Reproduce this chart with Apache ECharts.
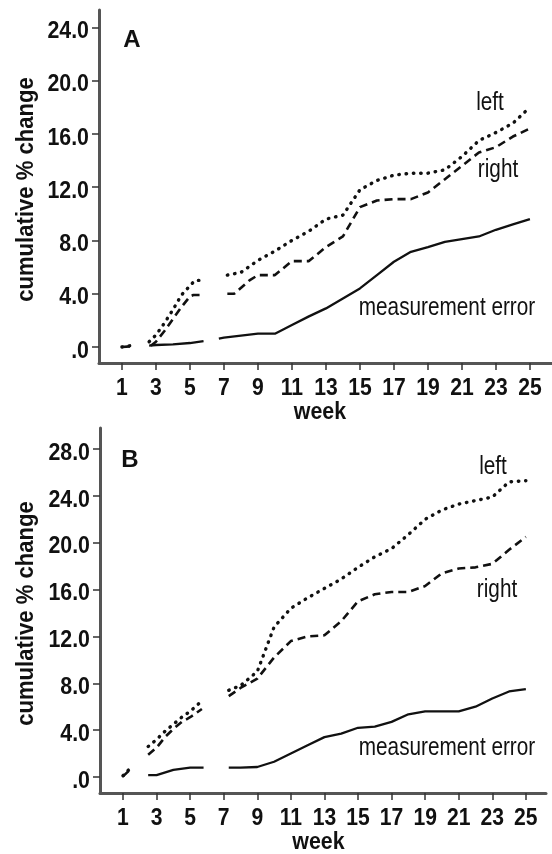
<!DOCTYPE html>
<html>
<head>
<meta charset="utf-8">
<script src="https://cdn.jsdelivr.net/npm/echarts@6/dist/echarts.min.js"></script>
<style>
html,body{margin:0;padding:0;background:#fff;}
#c{width:552px;height:854px;}
</style>
</head>
<body>
<div id="c"></div>
<script>
// ---- data: [week, cumulative % change]; '-' marks a break in the line ----
const weekTicks = [1,3,5,7,9,11,13,15,17,19,21,23,25];
const yTicksA = [0,4,8,12,16,20,24];
const yTicksB = [0,4,8,12,16,20,24,28];

const leftA = [[1,0],[1.5,0.1],[2,'-'],
  [2.6,0.4],[3,0.9],[3.5,1.8],[4,2.8],[4.5,3.9],[5,4.6],[5.3,5.0],[5.7,5.0],[6.4,'-'],
  [7.2,5.4],[8,5.6],[9,6.5],[10,7.2],[11,8.0],[12,8.7],[13,9.6],[14,9.9],[15,11.8],[16,12.5],[17,12.9],[18,13.05],[19,13.05],[20,13.3],[21,14.3],[22,15.5],[23,16.1],[24,16.8],[25,18.0]];
const rightA = [[1,0],[1.5,0.05],[2,'-'],
  [2.7,0.1],[3,0.4],[3.5,1.2],[4,2.1],[4.5,3.0],[5,3.8],[5.2,3.9],[5.7,3.9],[6.4,'-'],
  [7.2,4.0],[7.6,4.0],[8.5,5.0],[9,5.4],[10,5.4],[11,6.45],[12,6.45],[13,7.5],[14,8.3],[15,10.5],[16,11.0],[17,11.1],[18,11.1],[19,11.6],[20,12.6],[21,13.6],[22,14.6],[23,15.0],[24,15.8],[25,16.4]];
const errorA = [[2.6,0.1],[3,0.15],[4,0.2],[5,0.3],[5.8,0.45],[6.3,'-'],
  [6.7,0.63],[7,0.7],[8,0.85],[9,1.0],[10,1.0],[11,1.65],[12,2.3],[13,2.9],[14,3.65],[15,4.4],[16,5.4],[17,6.4],[18,7.15],[19,7.5],[20,7.9],[21,8.1],[22,8.3],[23,8.8],[24,9.2],[25,9.6]];

const leftB = [[1,0.1],[1.4,0.7],[2,'-'],
  [2.5,2.6],[3,3.2],[3.5,3.9],[4,4.5],[4.5,5.1],[5,5.6],[5.7,6.5],[6.4,'-'],
  [7.3,7.4],[8,7.8],[9,9.0],[10,12.8],[11,14.4],[12,15.3],[13,16.1],[14,16.9],[15,17.9],[16,18.8],[17,19.5],[18,20.7],[19,22.0],[20,22.8],[21,23.3],[22,23.6],[23,23.9],[24,25.2],[25,25.3]];
const rightB = [[1,0.05],[1.4,0.6],[2,'-'],
  [2.5,1.9],[3,2.5],[3.5,3.4],[4,4.1],[4.5,4.7],[5,5.1],[5.7,5.8],[6.4,'-'],
  [7.3,6.9],[8,7.6],[9,8.4],[10,10.2],[11,11.6],[12,12.0],[13,12.1],[14,13.3],[15,15.0],[16,15.6],[17,15.8],[18,15.8],[19,16.3],[20,17.4],[21,17.8],[22,17.9],[23,18.2],[24,19.4],[25,20.5]];
const errorB = [[2.5,0.15],[3,0.15],[4,0.6],[5,0.8],[5.8,0.8],[6.4,'-'],
  [7.3,0.8],[8,0.8],[9,0.85],[10,1.3],[11,2.0],[12,2.7],[13,3.4],[14,3.7],[15,4.2],[16,4.3],[17,4.7],[18,5.35],[19,5.6],[20,5.6],[21,5.6],[22,6.0],[23,6.7],[24,7.3],[25,7.5]];

const FONT = '"Liberation Sans Narrow", "Liberation Sans", Arial, sans-serif';
const AXIS_COLOR = '#555';
const X_RANGE = [[-0.35, 26.3], [-0.37, 26.2]];
const Y_RANGE = [[-1.2, 25.3], [-1.37, 29.8]];

function xAxisFor(i) {
  return {
    type: 'value', gridIndex: i, min: X_RANGE[i][0], max: X_RANGE[i][1],
    axisLine: {onZero: false, lineStyle: {color: AXIS_COLOR, width: 3}},
    axisTick: {customValues: weekTicks, length: 7, lineStyle: {color: '#333', width: 1.5}},
    axisLabel: {show: false},
    splitLine: {show: false}
  };
}
function yAxisFor(i, ticks) {
  return {
    type: 'value', gridIndex: i, min: Y_RANGE[i][0], max: Y_RANGE[i][1],
    axisLine: {onZero: false, lineStyle: {color: AXIS_COLOR, width: 3}},
    axisTick: {customValues: ticks, length: 7, lineStyle: {color: '#333', width: 1.5}},
    axisLabel: {show: false},
    splitLine: {show: false}
  };
}
function lineSeries(data, idx, kind) {
  const styles = {
    dotted: {color: '#111', width: 3.4, type: [0.5, 6.8], cap: 'round'},
    dashed: {color: '#111', width: 2.6, type: [8, 5]},
    solid:  {color: '#111', width: 2.3, type: 'solid'}
  };
  return {type: 'line', xAxisIndex: idx, yAxisIndex: idx, data, showSymbol: false, symbol: 'none',
    connectNulls: false, lineStyle: styles[kind], animation: false, silent: true};
}

const chart = echarts.init(document.getElementById('c'), null, {renderer: 'canvas'});
function txt(x, y, text, size, opts) {
  opts = opts || {};
  return {type: 'text', x, y, scaleX: opts.sx || 1, rotation: opts.rot || 0, silent: true,
    style: {text, fontFamily: FONT, fontSize: size, fontWeight: opts.bold ? 'bold' : 'normal',
      fill: '#111', align: opts.align || 'center', verticalAlign: 'middle'}};
}

chart.setOption({
  animation: false,
  backgroundColor: '#fff',
  grid: [
    {left: 99, top: 10, width: 453, height: 353},
    {left: 100, top: 428, width: 446, height: 365}
  ],
  xAxis: [xAxisFor(0), xAxisFor(1)],
  yAxis: [yAxisFor(0, yTicksA), yAxisFor(1, yTicksB)],
  series: [
    lineSeries(leftA, 0, 'dotted'), lineSeries(rightA, 0, 'dashed'), lineSeries(errorA, 0, 'solid'),
    lineSeries(leftB, 1, 'dotted'), lineSeries(rightB, 1, 'dashed'), lineSeries(errorB, 1, 'solid')
  ]
});

// tick labels and titles placed through the axes' own scales
const g = [];
[[0, yTicksA], [1, yTicksB]].forEach(([i, yt]) => {
  const ref = {xAxisIndex: i, yAxisIndex: i};
  yt.forEach(v => {
    const p = chart.convertToPixel(ref, [X_RANGE[i][0], v]);
    g.push(txt(p[0] - 10, p[1] + 4, v === 0 ? '.0' : v.toFixed(1), 24, {bold: true, sx: 0.89, align: 'right'}));
  });
  weekTicks.forEach(w => {
    const p = chart.convertToPixel(ref, [w, Y_RANGE[i][0]]);
    g.push(txt(p[0], p[1] + 25, String(w), 24, {bold: true, sx: 0.88}));
  });
  const mid = chart.convertToPixel(ref, [13, Y_RANGE[i][0]]);
  g.push(txt(mid[0] - 6, mid[1] + 50, 'week', 23, {bold: true, sx: 0.93}));
  const top = chart.convertToPixel(ref, [X_RANGE[i][0], Y_RANGE[i][1]]);
  const bot = chart.convertToPixel(ref, [X_RANGE[i][0], Y_RANGE[i][0]]);
  g.push(txt(26, (top[1] + bot[1]) / 2 + 3, 'cumulative % change', 24, {bold: true, sx: 0.92, rot: Math.PI / 2}));
});
g.push(txt(132, 40, 'A', 24, {bold: true}));
g.push(txt(490, 103, 'left', 25, {sx: 0.83}));
g.push(txt(498, 170, 'right', 25, {sx: 0.83}));
g.push(txt(447, 308, 'measurement error', 25, {sx: 0.83}));
g.push(txt(130, 460, 'B', 24, {bold: true}));
g.push(txt(493, 467, 'left', 25, {sx: 0.83}));
g.push(txt(497, 590, 'right', 25, {sx: 0.83}));
g.push(txt(447, 748, 'measurement error', 25, {sx: 0.83}));
chart.setOption({graphic: g});
</script>
</body>
</html>
